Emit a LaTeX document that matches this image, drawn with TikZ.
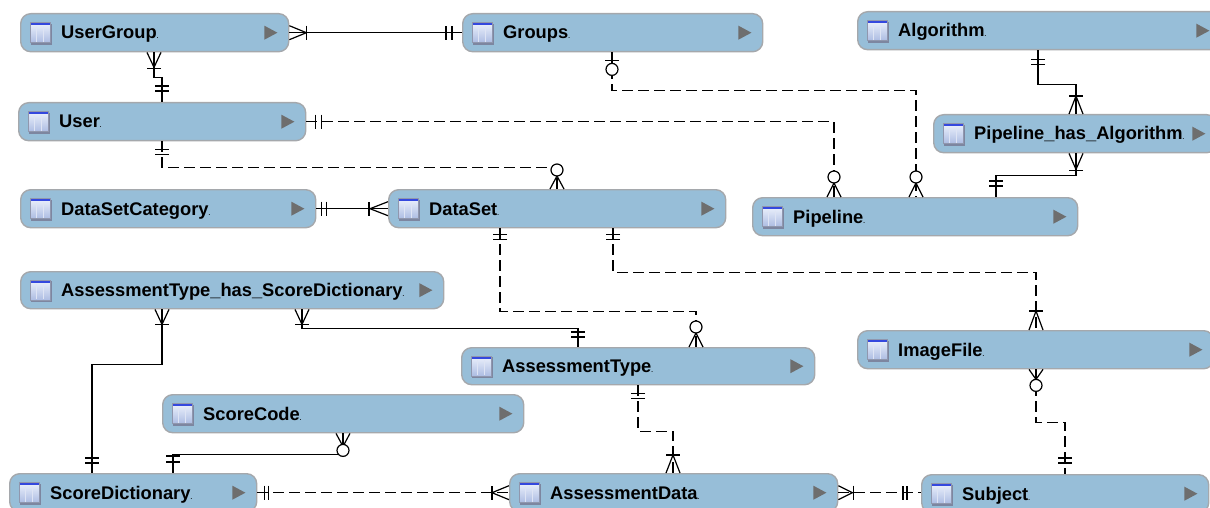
\documentclass[tikz,border=0pt]{standalone}
\usepackage{fontspec}
\setmainfont{Liberation Sans}
\usetikzlibrary{calc}
\definecolor{boxfill}{RGB}{151,190,216}
\definecolor{boxline}{RGB}{165,168,172}
\definecolor{trigray}{RGB}{110,110,110}
\definecolor{iconblue}{RGB}{52,72,222}
\definecolor{icontop}{RGB}{236,241,252}
\definecolor{iconbot}{RGB}{172,188,226}
\definecolor{iconedge}{RGB}{70,82,120}
\tikzset{
  ebox/.style={draw=boxline, line width=1.4pt, fill=boxfill, rounded corners=10pt, inner sep=0pt},
  lbl/.style={inner sep=0pt, font=\fontsize{18.3}{20}\selectfont\bfseries},
  rel/.style={line width=1.2pt, black},
  relD/.style={rel, dash pattern=on 10.5pt off 5.5pt},
  pics/crow/.style={code={\draw[line width=1.2pt] (0,-7)--(#1,0)--(0,7);}},
  pics/bar/.style={code={\draw[line width=1.2pt] (#1,-7)--(#1,7);}},
  pics/ring/.style={code={\draw[line width=1.2pt, fill=white] (#1,0) circle (6pt);}},
  pics/bb/.style 2 args={code={\draw[line width=1.2pt] (#1,-7)--(#1,7) (#2,-7)--(#2,7);}},
}
\newcommand\erbox[6]{%
  \node[ebox, anchor=north west, minimum width=#4pt-#2pt, minimum height=#5pt-#3pt] (#1) at (#2,#3) {};
  \coordinate (#1-ic) at ($(#1.west)+(20,0)$);
  \fill[iconedge!70] ($(#1-ic)+(-9,-9)$) rectangle ($(#1-ic)+(12,12)$);
  \shade[top color=icontop, bottom color=iconbot] ($(#1-ic)+(-10,-10)$) rectangle ($(#1-ic)+(10,10)$);
  \draw[white!60!iconbot, line width=0.8pt] ($(#1-ic)+(-3.5,-6)$) -- ($(#1-ic)+(-3.5,9)$) ($(#1-ic)+(3.5,-6)$) -- ($(#1-ic)+(3.5,9)$);
  \fill[iconblue] ($(#1-ic)+(-10,-10)$) rectangle ($(#1-ic)+(10,-7.5)$);
  \draw[iconedge!60, line width=0.5pt] ($(#1-ic)+(-10,-10)$) rectangle ($(#1-ic)+(10,10)$);
  \fill[trigray] ($(#1.east)+(-25,-7)$) -- ($(#1.east)+(-12,0)$) -- ($(#1.east)+(-25,7)$) -- cycle;
  \node[lbl, anchor=base west] (#1-t) at ($(#1.west)+(41,6.3)$) {#6{\fontsize{6}{6}\selectfont.}};
}
\begin{document}
\begin{tikzpicture}[x=1pt, y=-1pt]
\useasboundingbox (0,0) rectangle (1210,508);
\clip (0,0) rectangle (1210,508);
\fill[white] (0,0) rectangle (1210,508);
% entities
\erbox{ug}{20}{13}{288}{51}{UserGroup}
\erbox{grp}{462}{13}{762}{51}{Groups}
\erbox{alg}{857}{11}{1220}{49}{Algorithm}
\erbox{usr}{18}{102}{305}{140}{User}
\erbox{pha}{933}{114}{1216}{152}{Pipeline\_has\_Algorithm}
\erbox{dsc}{20}{189}{315}{227}{DataSetCategory}
\erbox{ds}{388}{189}{725}{227}{DataSet}
\erbox{pip}{752}{197}{1077}{235}{Pipeline}
\erbox{athsd}{20}{271}{443}{308}{AssessmentType\_has\_ScoreDictionary}
\erbox{at}{461}{347}{814}{384}{AssessmentType}
\erbox{img}{857}{330}{1213}{368}{ImageFile}
\erbox{sc}{162}{394}{523}{432}{ScoreCode}
\erbox{sd}{9}{473}{256}{511}{ScoreDictionary}
\erbox{ad}{509}{473}{837}{511}{AssessmentData}
\erbox{subj}{921}{474}{1208}{512}{Subject}
% 1 UserGroup - Groups
\draw[rel] (ug.east) -- (grp.west);
\pic at (ug.east) {crow=17}; \pic at (ug.east) {bar=17};
\pic[rotate=180] at (grp.west) {bb={10}{16}};
% 2 UserGroup - User
\coordinate (c2a) at ($(ug.south west)+(134,0)$);
\coordinate (c2b) at ($(usr.north west)+(144,0)$);
\draw[rel] (c2a) -- ++(0,25) -| (c2b);
\pic[rotate=-90] at (c2a) {crow=15}; \pic[rotate=-90] at (c2a) {bar=16};
\pic[rotate=90] at (c2b) {bb={11}{16}};
% 3 User - Pipeline
\coordinate (c3b) at ($(pip.north west)+(82,0)$);
\draw[relD] (usr.east) -| (c3b);
\pic at (usr.east) {bb={9}{15}};
\pic[rotate=90] at (c3b) {crow=14}; \pic[rotate=90] at (c3b) {ring=20};
% 4 User - DataSet
\coordinate (c4a) at ($(usr.south west)+(144,0)$);
\coordinate (c4b) at ($(ds.north west)+(169,0)$);
\draw[relD] (c4a) -- ++(0,26) -| (c4b);
\pic[rotate=-90] at (c4a) {bb={8}{13}};
\pic[rotate=90] at (c4b) {crow=13}; \pic[rotate=90] at (c4b) {ring=19};
% 5 DataSetCategory - DataSet
\draw[rel] (dsc.east) -- (ds.west);
\pic at (dsc.east) {bb={5}{10}};
\pic[rotate=180] at (ds.west) {crow=18}; \pic[rotate=180] at (ds.west) {bar=19};
% 6 Groups - Pipeline
\coordinate (c6a) at ($(grp.south west)+(150,0)$);
\coordinate (c6b) at ($(pip.north west)+(164,0)$);
\draw[relD] (c6a) -- ++(0,38) -| (c6b);
\pic[rotate=-90] at (c6a) {bar=8}; \pic[rotate=-90] at (c6a) {ring=17};
\pic[rotate=90] at (c6b) {crow=14}; \pic[rotate=90] at (c6b) {ring=20};
% 7 Algorithm - Pipeline_has_Algorithm
\coordinate (c7a) at ($(alg.south west)+(181,0)$);
\coordinate (c7b) at ($(pha.north west)+(143,0)$);
\draw[rel] (c7a) -- ++(0,34) -| (c7b);
\pic[rotate=-90] at (c7a) {bb={9}{14}};
\pic[rotate=90] at (c7b) {crow=18}; \pic[rotate=90] at (c7b) {bar=18};
% 8 Pipeline_has_Algorithm - Pipeline
\coordinate (c8a) at ($(pha.south west)+(143,0)$);
\coordinate (c8b) at ($(pip.north west)+(244,0)$);
\draw[rel] (c8a) -- ++(0,22) -| (c8b);
\pic[rotate=-90] at (c8a) {crow=16}; \pic[rotate=-90] at (c8a) {bar=17};
\pic[rotate=90] at (c8b) {bb={11}{16}};
% 9 DataSet - AssessmentType
\coordinate (c9a) at ($(ds.south west)+(112,0)$);
\coordinate (c9b) at ($(at.north west)+(235,0)$);
\draw[relD] (c9a) -- ++(0,83) -| (c9b);
\pic[rotate=-90] at (c9a) {bb={6}{11}};
\pic[rotate=90] at (c9b) {crow=14}; \pic[rotate=90] at (c9b) {ring=20};
% 10 DataSet - ImageFile
\coordinate (c10a) at ($(ds.south west)+(225,0)$);
\coordinate (c10b) at ($(img.north west)+(179,0)$);
\draw[relD] (c10a) -- ++(0,44) -| (c10b);
\pic[rotate=-90] at (c10a) {bb={6}{11}};
\pic[rotate=90] at (c10b) {crow=19}; \pic[rotate=90] at (c10b) {bar=19};
% 11 AssessmentType_has_ScoreDictionary - AssessmentType
\coordinate (c11a) at ($(athsd.south west)+(282,0)$);
\coordinate (c11b) at ($(at.north west)+(117,0)$);
\draw[rel] (c11a) -- ++(0,19) -| (c11b);
\pic[rotate=-90] at (c11a) {crow=15}; \pic[rotate=-90] at (c11a) {bar=15};
\pic[rotate=90] at (c11b) {bb={10}{15}};
% 12 AssessmentType_has_ScoreDictionary - ScoreDictionary
\coordinate (c12a) at ($(athsd.south west)+(142,0)$);
\coordinate (c12b) at ($(sd.north west)+(83,0)$);
\draw[rel] (c12a) -- ++(0,55) -| (c12b);
\pic[rotate=-90] at (c12a) {crow=15}; \pic[rotate=-90] at (c12a) {bar=15};
\pic[rotate=90] at (c12b) {bb={10}{15}};
% 13 ScoreCode - ScoreDictionary
\coordinate (c13a) at ($(sc.south west)+(181,0)$);
\coordinate (c13b) at ($(sd.north west)+(164,0)$);
\draw[rel] (c13a) -- ++(0,21) -| (c13b);
\pic[rotate=-90] at (c13a) {crow=13}; \pic[rotate=-90] at (c13a) {ring=17};
\pic[rotate=90] at (c13b) {bb={11}{17}};
% 14 ScoreDictionary - AssessmentData
\draw[relD] (sd.east) -- (ad.west);
\pic at (sd.east) {bb={7}{11}};
\pic[rotate=180] at (ad.west) {crow=17}; \pic[rotate=180] at (ad.west) {bar=17};
% 15 AssessmentType - AssessmentData
\coordinate (c15a) at ($(at.south west)+(177,0)$);
\coordinate (c15b) at ($(ad.north west)+(164,0)$);
\draw[relD] (c15a) -- ++(0,46) -| (c15b);
\pic[rotate=-90] at (c15a) {bb={8}{13}};
\pic[rotate=90] at (c15b) {crow=18}; \pic[rotate=90] at (c15b) {bar=18};
% 16 AssessmentData - Subject
\coordinate (c16b) at (ad.east -| subj.west);
\draw[relD] (ad.east) -- (c16b);
\pic at (ad.east) {crow=14}; \pic at (ad.east) {bar=15};
\pic[rotate=180] at (c16b) {bb={14}{18}};
% 17 ImageFile - Subject
\coordinate (c17a) at ($(img.south west)+(179,0)$);
\coordinate (c17b) at ($(subj.north west)+(144,0)$);
\draw[relD] (c17a) -- ++(0,53) -| (c17b);
\pic[rotate=-90] at (c17a) {crow=10}; \pic[rotate=-90] at (c17a) {ring=16};
\pic[rotate=90] at (c17b) {bb={11}{16}};
\end{tikzpicture}
\end{document}
